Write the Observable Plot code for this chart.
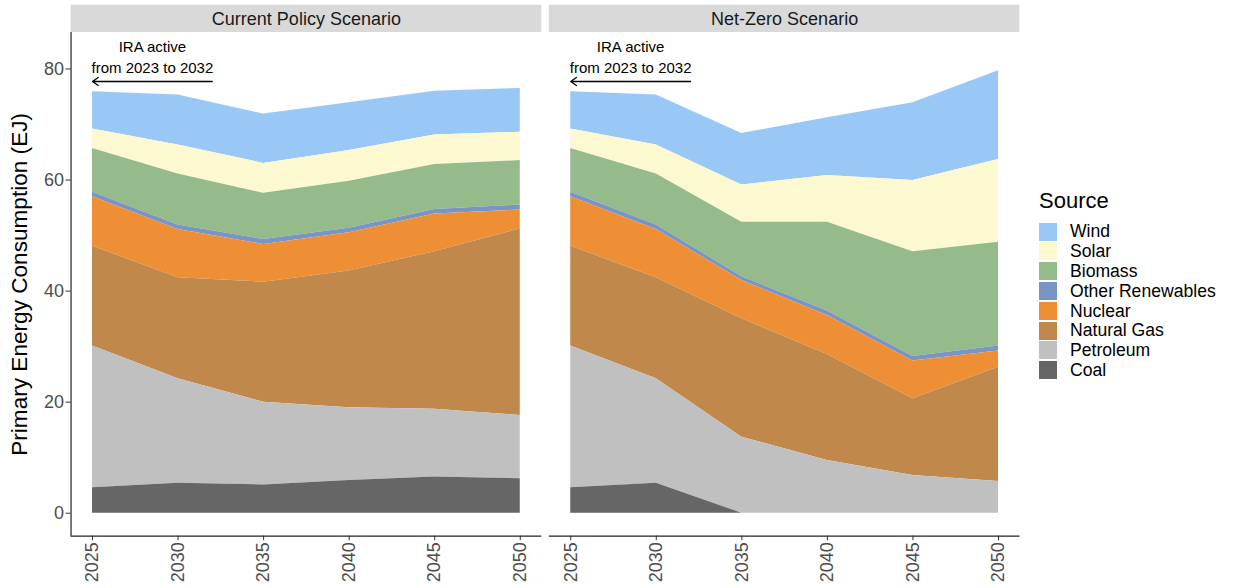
<!DOCTYPE html>
<html>
<head>
<meta charset="utf-8">
<script src="https://cdn.jsdelivr.net/npm/d3@7"></script>
<script src="https://cdn.jsdelivr.net/npm/@observablehq/plot@0.6"></script>
<style>
  html, body { margin: 0; padding: 0; background: #fff; }
  #wrap { position: relative; width: 1236px; height: 588px; font-family: "Liberation Sans", Arial, sans-serif; }
  #chart { position: absolute; left: 0; top: 0; }
  #legend { position: absolute; left: 1039px; top: 0; }
  .ltitle { position: absolute; left: 0; top: 189.7px; font-size: 22px; line-height: 22px; white-space: nowrap; color: #000; }
  .lrow { position: absolute; left: 0; height: 19.8px; white-space: nowrap; }
  .lsw { position: absolute; left: 0; top: 0.4px; width: 18px; height: 18px; }
  .llab { position: absolute; left: 31px; top: 0; font-size: 17.6px; line-height: 19.8px; color: #000; }
</style>
</head>
<body>
<div id="wrap"><div id="chart"></div><div id="legend"></div></div>
<script>
// ---------- data ----------
const years = [2025, 2030, 2035, 2040, 2045, 2050];
const scenarios = ["Current Policy Scenario", "Net-Zero Scenario"];
const sources = ["Wind", "Solar", "Biomass", "Other Renewables", "Nuclear", "Natural Gas", "Petroleum", "Coal"];
const sourceColors = ["#99c7f6", "#fcf9d0", "#96bb8a", "#7895c6", "#ee8f36", "#c0894b", "#c0c0c0", "#666666"];
const yTicks = [0, 20, 40, 60, 80];

// Current Policy Scenario (EJ)
const cpWind      = [6.7, 9.0, 8.9, 8.6, 7.9, 7.9];
const cpSolar     = [3.5, 5.2, 5.4, 5.5, 5.3, 5.1];
const cpBiomass   = [7.9, 9.2, 8.3, 8.5, 8.1, 8.0];
const cpOther     = [0.8, 0.8, 0.9, 0.8, 0.8, 0.9];
const cpNuclear   = [8.9, 8.7, 6.8, 6.9, 6.8, 3.4];
const cpGas       = [18.0, 18.2, 21.6, 24.6, 28.4, 33.6];
const cpPetroleum = [25.5, 18.8, 14.9, 13.1, 12.2, 11.4];
const cpCoal      = [4.6, 5.4, 5.1, 5.9, 6.5, 6.2];

// Net-Zero Scenario (EJ)
const nzWind      = [6.7, 9.0, 9.3, 10.4, 14.0, 16.0];
const nzSolar     = [3.5, 5.2, 6.7, 8.4, 12.8, 14.9];
const nzBiomass   = [7.9, 9.2, 9.8, 16.0, 18.9, 18.7];
const nzOther     = [0.8, 0.8, 0.7, 0.8, 0.8, 0.9];
const nzNuclear   = [8.9, 8.7, 6.9, 7.0, 6.8, 2.9];
const nzGas       = [18.0, 18.2, 21.3, 19.1, 13.8, 20.6];
const nzPetroleum = [25.5, 18.8, 13.7, 9.5, 6.8, 5.7];
const nzCoal      = [4.6, 5.4, 0, 0, 0, 0];

const annotText = "IRA active\nfrom 2023 to 2032";
const annotX = 2028.5, annotY = 82.4;
const arrowFrom = 2032, arrowTo = 2025, arrowY = 77.75;

// ---------- build table ----------
const seriesBy = {
  "Current Policy Scenario": [cpWind, cpSolar, cpBiomass, cpOther, cpNuclear, cpGas, cpPetroleum, cpCoal],
  "Net-Zero Scenario": [nzWind, nzSolar, nzBiomass, nzOther, nzNuclear, nzGas, nzPetroleum, nzCoal]
};
const data = [];
for (const sc of scenarios) {
  seriesBy[sc].forEach((vals, si) => {
    vals.forEach((v, yi) => data.push({scenario: sc, source: sources[si], year: years[yi], value: v}));
  });
}
const stackOrder = sources.slice().reverse(); // Coal at bottom
const facets = scenarios.map(s => ({scenario: s}));

// scale extents (ggplot-like expansion)
const xLo = 2023.746, xHi = 2051.254;
const yLo = -4.14, yHi = 86.57, stripTop = 91.49, stripMid = 88.88;

const font = "'Liberation Sans', Arial, sans-serif";

const chart = Plot.plot({
  width: 1025,
  height: 588,
  marginLeft: 70.55,
  marginRight: 5.55,
  marginTop: 32,
  marginBottom: 52.3,
  style: {fontFamily: font, background: "white", overflow: "visible"},
  fx: {domain: scenarios, paddingInner: 0.0158, paddingOuter: 0, axis: null, round: false},
  x: {domain: [xLo, xHi]},
  y: {domain: [yLo, yHi]},
  color: {domain: sources, range: sourceColors},
  marks: [
    Plot.rect(facets, {fx: "scenario", x1: xLo, x2: xHi, y1: yHi, y2: stripTop, fill: "#d9d9d9"}),
    Plot.text(facets, {fx: "scenario", x: (xLo + xHi) / 2, y: stripMid, text: "scenario", fontSize: 18, fill: "#1a1a1a", lineAnchor: "middle"}),
    Plot.areaY(data, {fx: "scenario", x: "year", y: "value", fill: "source", order: stackOrder}),
    Plot.text(facets, {fx: "scenario", x: annotX, y: annotY, text: () => annotText, fontSize: 15, lineHeight: 1.45, fill: "#000"}),
    Plot.arrow(facets, {fx: "scenario", x1: arrowFrom, x2: arrowTo, y1: arrowY, y2: arrowY, stroke: "#000", strokeWidth: 1.3, headLength: 8, headAngle: 70}),
    Plot.axisY({ticks: yTicks, tickSize: 5, tickPadding: 2, fontSize: 18, fill: "#4d4d4d", stroke: "#333", label: null}),
    Plot.axisX({ticks: years, tickFormat: "d", tickRotate: -90, tickSize: 4.5, tickPadding: 1.5, fontSize: 18, fill: "#4d4d4d", stroke: "#333", label: null}),
    Plot.ruleX([{scenario: scenarios[0]}], {fx: "scenario", x: xLo, y1: yLo, y2: yHi, stroke: "#222", strokeWidth: 1.2}),
    Plot.ruleY(facets, {fx: "scenario", y: yLo, x1: xLo, x2: xHi, stroke: "#222", strokeWidth: 1.2}),
    Plot.text([{scenario: scenarios[0]}], {fx: "scenario", frameAnchor: "left", textAnchor: "middle", dx: -51.7, rotate: -90, text: () => "Primary Energy Consumption (EJ)", fontSize: 22.6, fill: "#000", lineAnchor: "middle"})
  ]
});
document.getElementById("chart").appendChild(chart);

// ---------- legend ----------
const leg = document.getElementById("legend");
const t = document.createElement("div");
t.className = "ltitle";
t.textContent = "Source";
leg.appendChild(t);
sources.forEach((s, i) => {
  const row = document.createElement("div");
  row.className = "lrow";
  row.style.top = (222.3 + i * 19.8) + "px";
  const sw = document.createElement("div");
  sw.className = "lsw";
  sw.style.background = sourceColors[i];
  const lb = document.createElement("div");
  lb.className = "llab";
  lb.textContent = s;
  row.appendChild(sw);
  row.appendChild(lb);
  leg.appendChild(row);
});
</script>
</body>
</html>
